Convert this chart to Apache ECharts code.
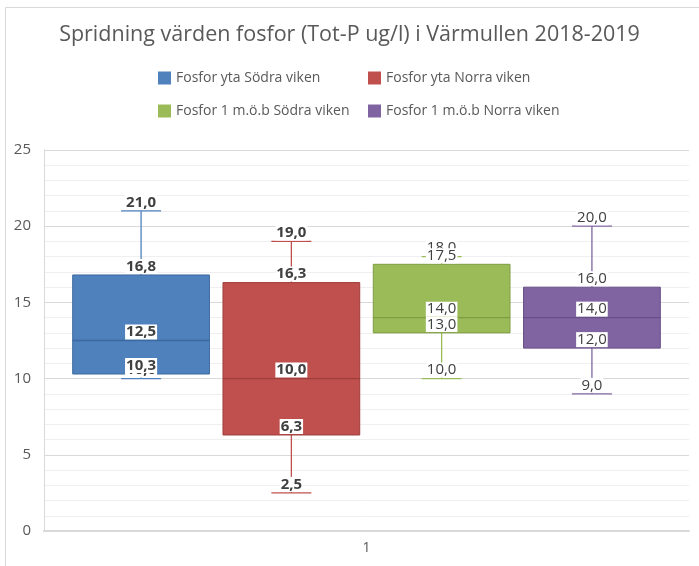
<!DOCTYPE html>
<html>
<head>
<meta charset="utf-8">
<script src="https://cdn.jsdelivr.net/npm/echarts@6/dist/echarts.min.js"></script>
<style>
html,body{margin:0;padding:0;background:#fff;}
#chart{width:699px;height:566px;}
</style>
</head>
<body>
<div id="chart"></div>
<script>
// data
var categories = ['1'];
var seriesNames = ['Fosfor yta Södra viken', 'Fosfor yta Norra viken', 'Fosfor 1 m.ö.b Södra viken', 'Fosfor 1 m.ö.b Norra viken'];
var minVals = [10.0, 2.5, 10.0, 9.0];
var q1Vals = [10.3, 6.3, 13.0, 12.0];
var medianVals = [12.5, 10.0, 14.0, 14.0];
var q3Vals = [16.8, 16.3, 17.5, 16.0];
var maxVals = [21.0, 19.0, 18.0, 20.0];

var colors = ['#4F81BD', '#C0504D', '#9BBB59', '#8064A2'];
var darker = ['#3D6A9E', '#9E3E3B', '#7E9C44', '#664E86'];
var boldLabels = [true, true, false, false];

var FONT = '"Open Sans", "Noto Sans", sans-serif';

function fmt(v){
	return v.toFixed(1).replace('.', ',');
}

var chart = echarts.init(document.getElementById('chart'));

function makeSeries(idx){
	return {
		name: seriesNames[idx],
		type: 'custom',
		itemStyle: {color: colors[idx]},
		data: [[0, minVals[idx], q1Vals[idx], medianVals[idx], q3Vals[idx], maxVals[idx]]],
		encode: {x: 0, y: [1, 2, 3, 4, 5]},
		renderItem: function(params, api){
			var band = api.size([1, 0])[0];
			var center = api.coord([api.value(0), 0])[0];
			var step = band * 0.233;
			var cx = center + (idx - 1.5) * step;
			var bw = band * 0.212;
			var cap = band * 0.062;
			var yMin = api.coord([api.value(0), api.value(1)])[1];
			var yQ1 = api.coord([api.value(0), api.value(2)])[1];
			var yMed = api.coord([api.value(0), api.value(3)])[1];
			var yQ3 = api.coord([api.value(0), api.value(4)])[1];
			var yMax = api.coord([api.value(0), api.value(5)])[1];
			var line = {stroke: colors[idx], lineWidth: 1.3};
			var font = (boldLabels[idx] ? 'bold ' : '') + '15px ' + FONT;
			function lbl(v, y){
				return {
					type: 'text', x: cx, y: y - 1, z2: 10,
					style: {
						text: fmt(v), font: font, fill: '#404040',
						align: 'center', verticalAlign: 'bottom',
						backgroundColor: '#fff', padding: [0, 1, 0, 1]
					}
				};
			}
			return {
				type: 'group',
				children: [
					{type: 'line', shape: {x1: cx, y1: yQ3, x2: cx, y2: yMax}, style: line},
					{type: 'line', shape: {x1: cx, y1: yQ1, x2: cx, y2: yMin}, style: line},
					{type: 'line', shape: {x1: cx - cap / 2, y1: yMax, x2: cx + cap / 2, y2: yMax}, style: line},
					{type: 'line', shape: {x1: cx - cap / 2, y1: yMin, x2: cx + cap / 2, y2: yMin}, style: line},
					{type: 'rect', shape: {x: cx - bw / 2, y: yQ3, width: bw, height: yQ1 - yQ3},
						style: {fill: colors[idx], stroke: darker[idx], lineWidth: 1}},
					{type: 'line', shape: {x1: cx - bw / 2, y1: yMed, x2: cx + bw / 2, y2: yMed},
						style: {stroke: darker[idx], lineWidth: 1.3}},
					lbl(maxVals[idx], yMax),
					lbl(q3Vals[idx], yQ3),
					lbl(minVals[idx], yMin),
					lbl(q1Vals[idx], yQ1),
					lbl(medianVals[idx], yMed)
				]
			};
		}
	};
}

var legendPos = [[158, 71], [368, 71], [158, 104], [368, 104]];
var legends = [];
for (var i = 0; i < seriesNames.length; i++) {
	legends.push({
		data: [seriesNames[i]],
		left: legendPos[i][0], top: legendPos[i][1],
		padding: 0,
		icon: 'rect', itemWidth: 13, itemHeight: 13, itemGap: 6,
		selectedMode: false,
		textStyle: {color: '#595959', fontSize: 14, fontFamily: FONT}
	});
}

var series = [];
for (var i = 0; i < seriesNames.length; i++) series.push(makeSeries(i));

option = {
	backgroundColor: '#fff',
	animation: false,
	title: {
		text: 'Spridning värden fosfor (Tot-P ug/l) i Värmullen 2018-2019',
		left: 'center', top: 19,
		textStyle: {color: '#595959', fontSize: 21.5, fontWeight: 'normal', fontFamily: FONT}
	},
	legend: legends,
	grid: {left: 44, right: 10, top: 150, bottom: 35},
	xAxis: {
		type: 'category',
		data: categories,
		axisLine: {lineStyle: {color: '#d9d9d9', width: 2}},
		axisTick: {show: false},
		axisLabel: {color: '#595959', fontSize: 14, fontFamily: FONT, margin: 10}
	},
	yAxis: {
		type: 'value',
		min: 0, max: 25, interval: 5,
		axisLine: {show: true, lineStyle: {color: '#d9d9d9'}},
		axisTick: {show: false},
		axisLabel: {color: '#595959', fontSize: 15, fontFamily: FONT, margin: 13},
		splitLine: {lineStyle: {color: '#d9d9d9'}},
		minorTick: {show: false, splitNumber: 5},
		minorSplitLine: {show: true, lineStyle: {color: '#efefef'}}
	},
	graphic: [{
		type: 'rect', silent: true, z: -1,
		shape: {x: 5.5, y: 7.5, width: 720, height: 600},
		style: {fill: null, stroke: '#d9d9d9', lineWidth: 1}
	}],
	series: series
};

chart.setOption(option);
</script>
</body>
</html>
